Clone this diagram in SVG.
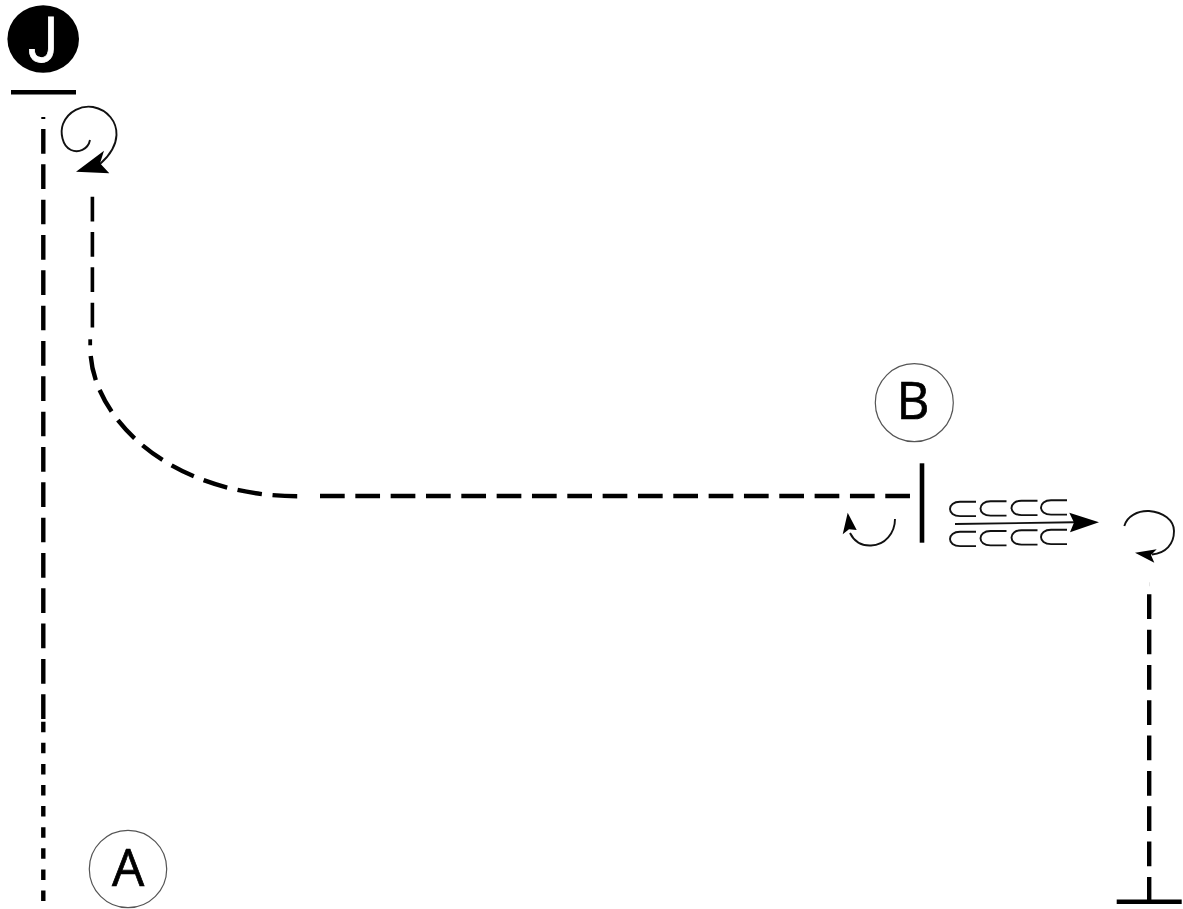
<svg xmlns="http://www.w3.org/2000/svg" width="1183" height="909" viewBox="0 0 1183 909">
<style>
.dash{fill:none;stroke:#000;stroke-width:4.4;stroke-dasharray:24.7 10.63}
.short{fill:none;stroke:#000;stroke-width:4.4;stroke-dasharray:10.5 10.6}
.bar{fill:none;stroke:#000;stroke-width:4.6}
.thin{fill:none;stroke:#111;stroke-width:1.9}
.ring{fill:#fff;stroke:#555;stroke-width:1.2}
.lbl{font-family:"Open Sans","Noto Sans",sans-serif;font-size:51px;fill:#000;stroke:#000;stroke-width:.7;text-anchor:middle}
</style>
<defs>
<path id="c" class="thin" d="M26 0H10C3.500 0 0 3.500 0 7.200S3.500 14.400 10 14.400H26"/>
</defs>
<rect width="1183" height="909" fill="#fff"/>
<g id="node-J">
<ellipse cx="43.2" cy="39" rx="35.800" ry="33.800" fill="#000"/>
<text transform="translate(28 62) scale(.85 1)" font-family="Roboto,sans-serif" font-size="63" fill="#fff" stroke="#fff" stroke-width=".9">J</text>
<path class="bar" d="M11 92.300H76"/>
</g>
<g id="node-A">
<circle class="ring" cx="128" cy="869" r="38.700"/>
<text class="lbl" x="128" y="885.700">A</text>
</g>
<g id="node-B">
<circle class="ring" cx="914.300" cy="402.700" r="39"/>
<text class="lbl" x="913" y="419">B</text>
<path class="bar" d="M922 463.300V542.700"/>
</g>
<g id="node-end">
<path class="bar" d="M1116.700 901.700H1181.700"/>
</g>
<g id="connectors">
<path d="M43.300 117V119" fill="none" stroke="#000" stroke-width="4"/>
<path class="dash" d="M43.300 129V719"/>
<path class="short" d="M43.300 721.700V902"/>
<path class="dash" style="stroke-width:3.600" d="M92.400 196.700V330"/>
<path d="M90.200 339.300V345.300" fill="none" stroke="#000" stroke-width="3.800"/>
<path class="dash" d="M90.700 356C96 420 170 496 298.500 496.300"/>
<path class="dash" d="M320 496H910"/>
<path d="M1149 584.300H1149.500" fill="none" stroke="#ccc" stroke-width="4"/>
<path class="dash" d="M1149.200 594.300V902"/>
<path class="thin" d="M90 140C88 150 78 153 71 150C62 146 60 132 63 124C68 111 82 105 93 107C108 110 117 122 116.500 135C116 147 108 157 100 164"/>
<polygon points="76,171.700 104,150.700 100,163.300 109.300,173.300"/>
<path class="thin" d="M895 519C895 533 885 545 871 545.500C861 546 854 541 850 533"/>
<polygon points="847.700,512.700 842.700,534.300 849,529.300 856.700,530"/>
<path class="thin" d="M1124.300 526C1127 516 1138 510.500 1149 511C1163 512 1174 520 1174 531C1174 544 1166 553 1152 554.500"/>
<polygon points="1135,552.700 1156.700,549.300 1151,555 1154.300,562.700"/>
<path class="thin" d="M955 524L1074 522.300"/>
<polygon points="1099,522.300 1069.300,512.700 1074,522.500 1070,532.300"/>
<use href="#c" x="950" y="501.700"/>
<use href="#c" x="980.500" y="501.200"/>
<use href="#c" x="1011.500" y="500.700"/>
<use href="#c" x="1041" y="500.200"/>
<use href="#c" x="950" y="531.700"/>
<use href="#c" x="980.500" y="531"/>
<use href="#c" x="1011.500" y="530.200"/>
<use href="#c" x="1041" y="529.700"/>
</g>
</svg>
